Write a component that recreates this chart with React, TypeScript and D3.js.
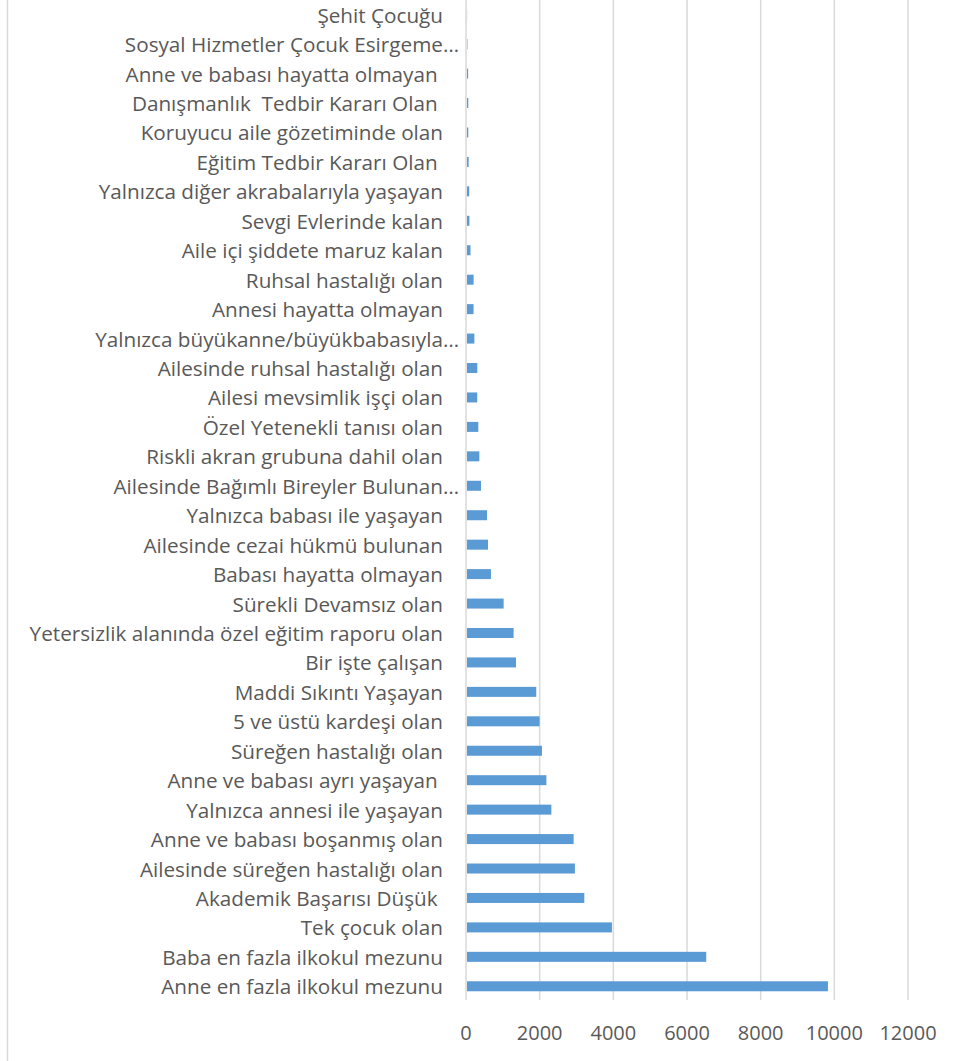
import React from "react";
import * as d3 from "d3";

const categories: string[] = [
  "Şehit Çocuğu",
  "Sosyal Hizmetler Çocuk Esirgeme…",
  "Anne ve babası hayatta olmayan ",
  "Danışmanlık  Tedbir Kararı Olan ",
  "Koruyucu aile gözetiminde olan",
  "Eğitim Tedbir Kararı Olan ",
  "Yalnızca diğer akrabalarıyla yaşayan",
  "Sevgi Evlerinde kalan",
  "Aile içi şiddete maruz kalan",
  "Ruhsal hastalığı olan",
  "Annesi hayatta olmayan",
  "Yalnızca büyükanne/büyükbabasıyla…",
  "Ailesinde ruhsal hastalığı olan",
  "Ailesi mevsimlik işçi olan",
  "Özel Yetenekli tanısı olan",
  "Riskli akran grubuna dahil olan",
  "Ailesinde Bağımlı Bireyler Bulunan…",
  "Yalnızca babası ile yaşayan",
  "Ailesinde cezai hükmü bulunan",
  "Babası hayatta olmayan",
  "Sürekli Devamsız olan",
  "Yetersizlik alanında özel eğitim raporu olan",
  "Bir işte çalışan",
  "Maddi Sıkıntı Yaşayan",
  "5 ve üstü kardeşi olan",
  "Süreğen hastalığı olan",
  "Anne ve babası ayrı yaşayan ",
  "Yalnızca annesi ile yaşayan",
  "Anne ve babası boşanmış olan",
  "Ailesinde süreğen hastalığı olan",
  "Akademik Başarısı Düşük ",
  "Tek çocuk olan",
  "Baba en fazla ilkokul mezunu",
  "Anne en fazla ilkokul mezunu",
];

const values: number[] = [
  3, 12, 30, 35, 35, 45, 60, 65, 95, 180, 178, 200, 280, 278, 307, 335, 380,
  545, 570, 650, 995, 1265, 1330, 1880, 1970, 2035, 2155, 2290, 2895, 2930,
  3185, 3935, 6495, 9800,
];

const xTicks: number[] = [0, 2000, 4000, 6000, 8000, 10000, 12000];

const W = 960;
const H = 1061;
const FONT = "'Open Sans', 'Noto Sans', sans-serif";

export default function App() {
  const x = d3.scaleLinear().domain([0, 12000]).range([466, 908]);
  const y = d3
    .scaleBand<string>()
    .domain(categories)
    .range([0, 1001])
    .paddingInner(0.66)
    .paddingOuter(0.33);
  const gridTop = 0;
  const gridBottom = 1000;

  return (
    <svg
      width={W}
      height={H}
      style={{ position: "absolute", left: 0, top: 0, background: "#fff" }}
      fontFamily={FONT}
    >
      <rect x={0} y={0} width={W} height={H} fill="#fff" />
      <line x1={7.5} x2={7.5} y1={0} y2={H} stroke="#d9d9d9" strokeWidth={1.5} />
      {xTicks.map((t) => (
        <line
          key={"g" + t}
          x1={x(t)}
          x2={x(t)}
          y1={gridTop}
          y2={gridBottom}
          stroke="#d9d9d9"
          strokeWidth={1.5}
        />
      ))}
      {categories.map((c, i) => (
        <rect
          key={"b" + c}
          x={x(0) + 1}
          y={y(c)!}
          width={Math.max(0, x(values[i]) - x(0))}
          height={y.bandwidth()}
          fill="#5B9BD5"
        />
      ))}
      {categories.map((c) => (
        <text
          key={"l" + c}
          x={c.endsWith("…") ? 459 : 443}
          y={y(c)! + y.bandwidth() / 2}
          textAnchor="end"
          dominantBaseline="central"
          fontSize={20.7}
          fill="#595959"
          style={{ whiteSpace: "pre" }}
        >
          {c}
        </text>
      ))}
      {xTicks.map((t) => (
        <text
          key={"t" + t}
          x={x(t)}
          y={1032}
          textAnchor="middle"
          dominantBaseline="central"
          fontSize={20}
          fill="#595959"
        >
          {t}
        </text>
      ))}
    </svg>
  );
}
